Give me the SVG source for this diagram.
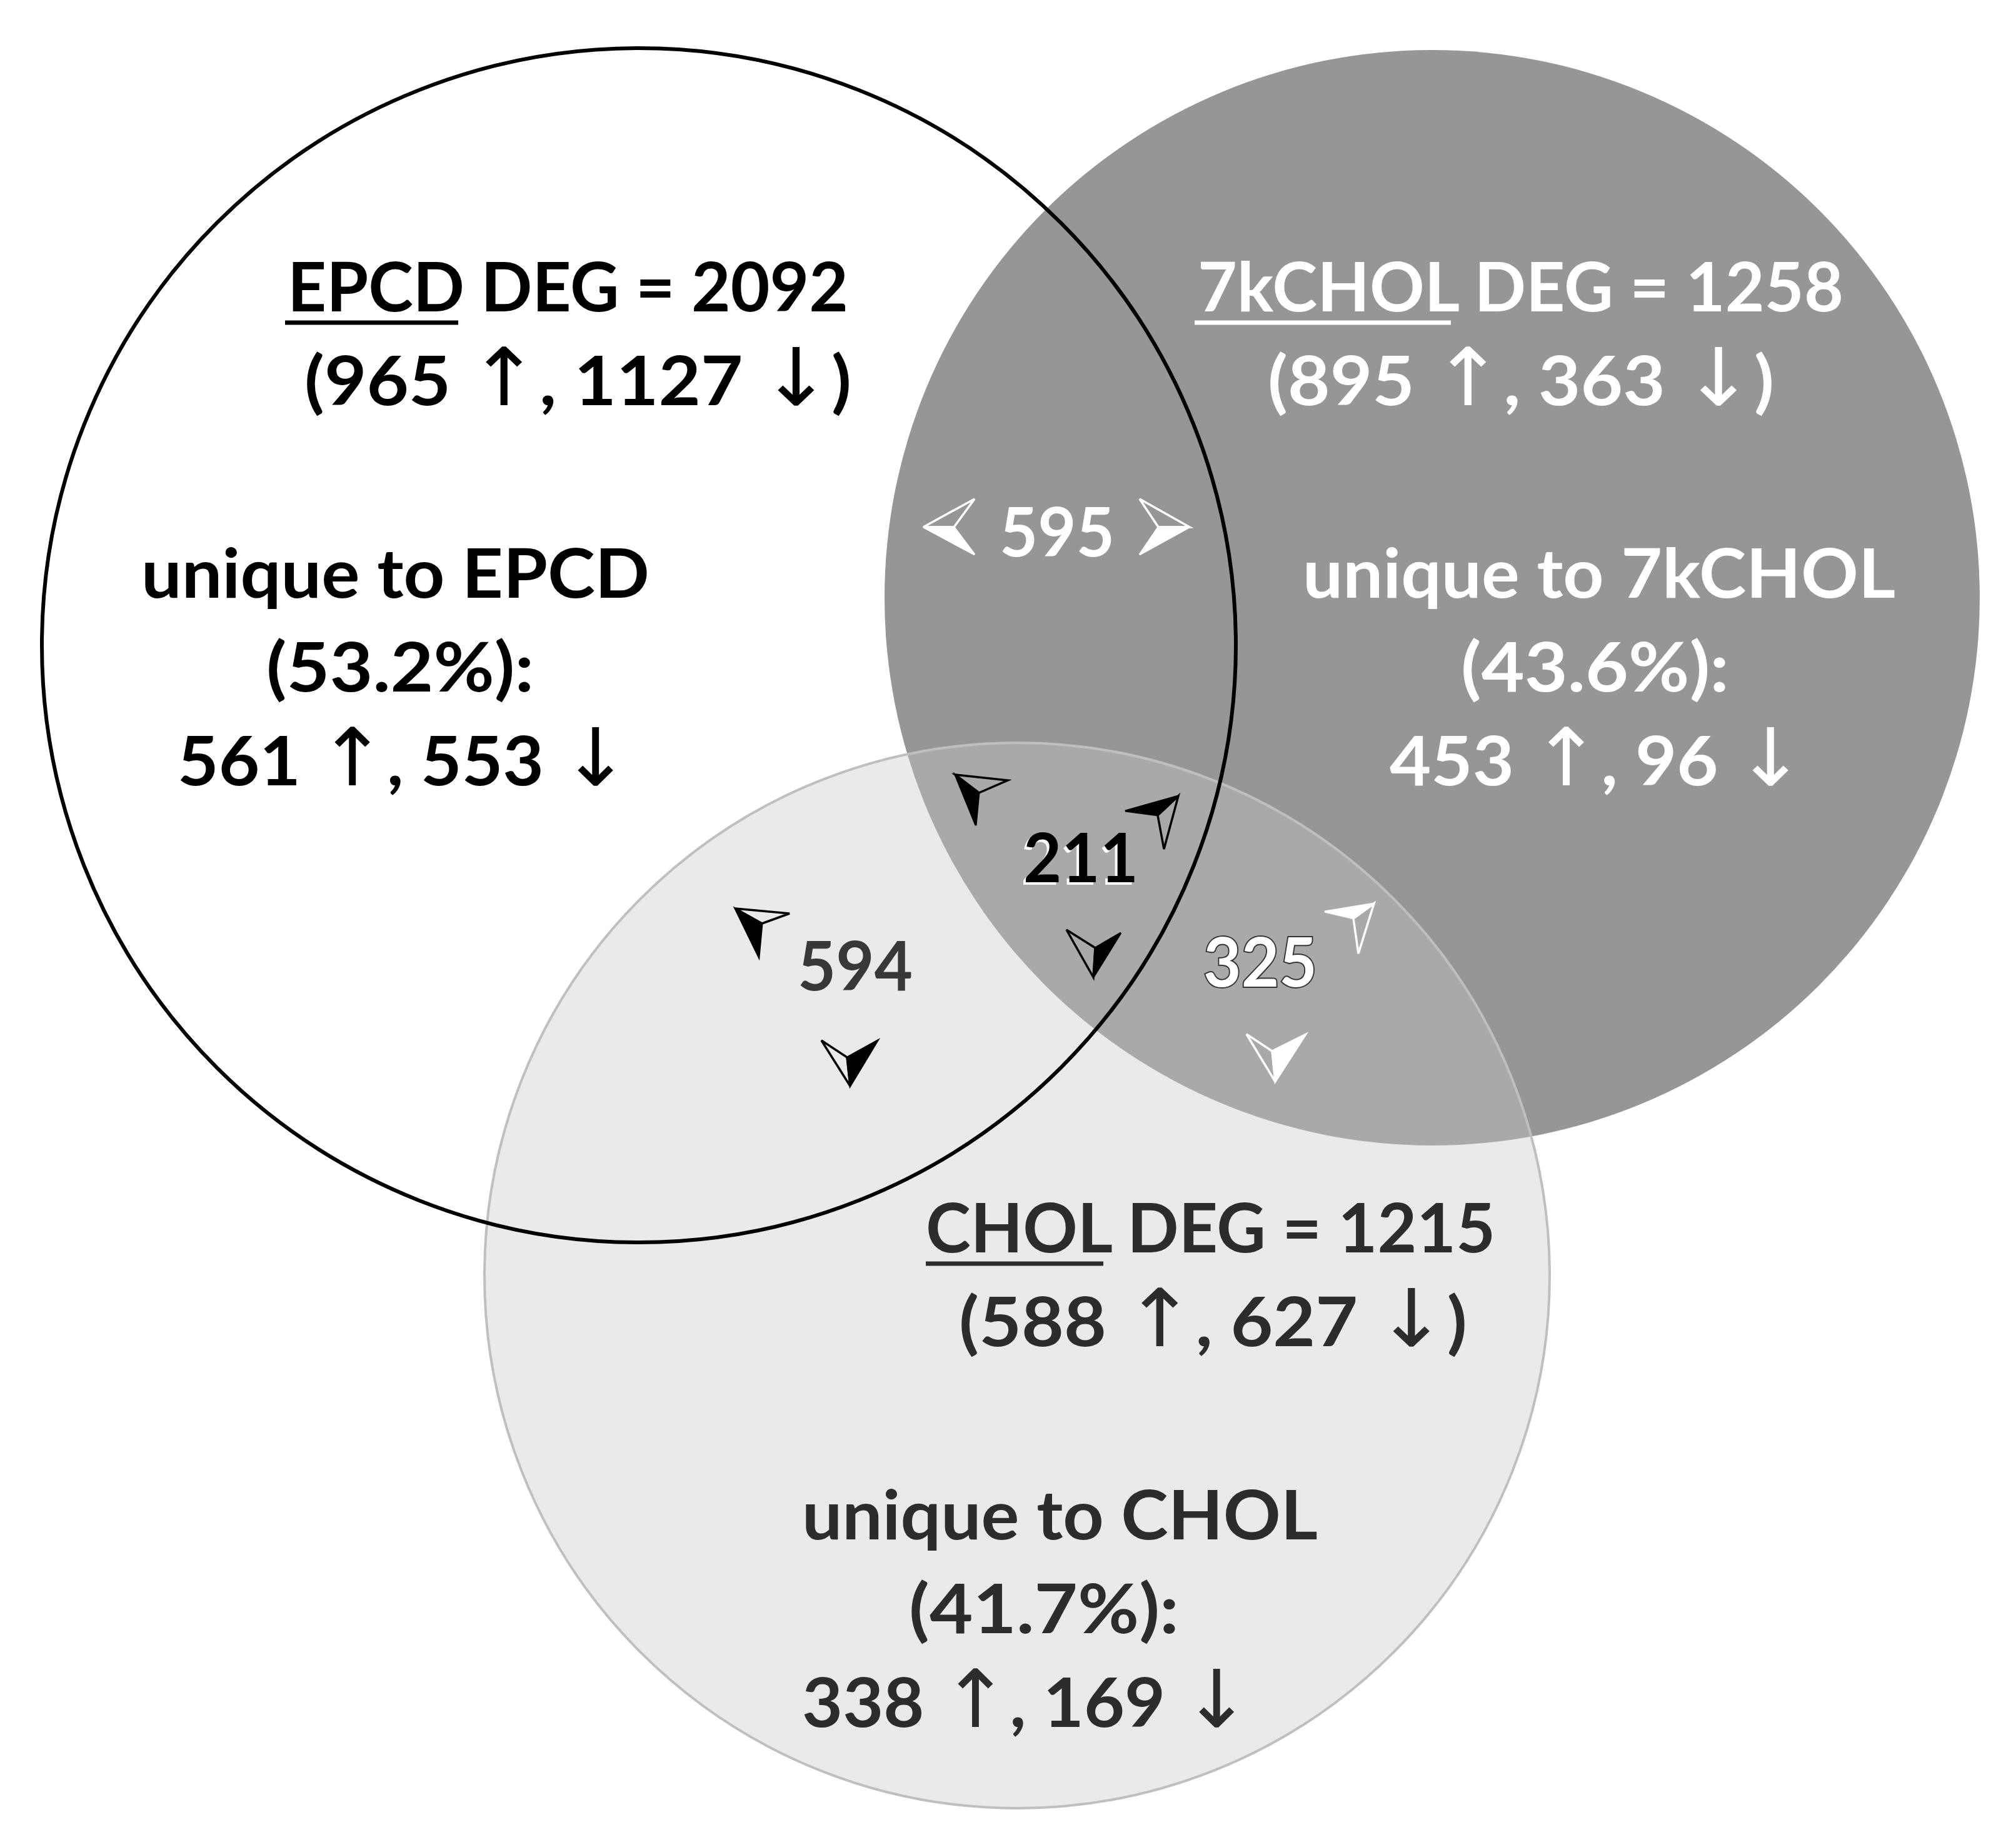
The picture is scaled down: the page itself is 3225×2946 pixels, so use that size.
<svg xmlns="http://www.w3.org/2000/svg" width="3225" height="2946" viewBox="0 0 3225 2946">
<style>
.t{font-family:"Lato","Open Sans","Liberation Sans",sans-serif;font-size:110px;font-weight:bold;}
.k{fill:#000;}
.w{fill:#fff;}
.d{fill:#2e2b2c;}
.ar{font-family:"DejaVu Sans",sans-serif;font-weight:normal;font-size:128px;}
.fk{fill:#000;stroke:#000;stroke-width:3;stroke-linejoin:miter;}
.ok{fill:none;stroke:#000;stroke-width:3.5;stroke-linejoin:miter;}
.fw{fill:#fff;stroke:#fff;stroke-width:3;stroke-linejoin:miter;}
.ow{fill:none;stroke:#fff;stroke-width:3.5;stroke-linejoin:miter;}
</style>
<rect x="0" y="0" width="3225" height="2946" fill="#fff"/>
<g id="sets">
  <circle id="epcd-fill" cx="1022" cy="1032" r="955" fill="#fff"/>
  <g id="node-7kchol-shape"><circle cx="2291" cy="956" r="876" fill="#969696"/></g>
  <g id="node-chol-shape"><circle cx="1627" cy="2040" r="852" fill="#cdc5c8" fill-opacity="0.38" stroke="#bfbfbf" stroke-width="4"/></g>
  <g id="node-epcd-shape"><circle cx="1022" cy="1032" r="955" fill="none" stroke="#000" stroke-width="6"/></g>
</g>
<g id="node-epcd">
  <text class="t k" x="460" y="498" textLength="897" lengthAdjust="spacingAndGlyphs">EPCD DEG = 2092</text>
  <line x1="456" y1="516" x2="733" y2="516" stroke="#000" stroke-width="7"/>
  <text class="t k" x="487" y="648" textLength="875" lengthAdjust="spacingAndGlyphs">(965 <tspan class="ar">↑</tspan>, 1127 <tspan class="ar">↓</tspan>)</text>
  <text class="t k" x="226" y="956" textLength="813" lengthAdjust="spacingAndGlyphs">unique to EPCD</text>
  <text class="t k" x="426" y="1106" textLength="428" lengthAdjust="spacingAndGlyphs">(53.2%):</text>
  <text class="t k" x="284" y="1256" textLength="724" lengthAdjust="spacingAndGlyphs">561 <tspan class="ar">↑</tspan>, 553 <tspan class="ar">↓</tspan></text>
</g>
<g id="node-7kchol">
  <text class="t w" x="1916" y="498" textLength="1033" lengthAdjust="spacingAndGlyphs">7kCHOL DEG = 1258</text>
  <line x1="1911" y1="516" x2="2321" y2="516" stroke="#fff" stroke-width="7"/>
  <text class="t w" x="2028" y="648" textLength="810" lengthAdjust="spacingAndGlyphs">(895 <tspan class="ar">↑</tspan>, 363 <tspan class="ar">↓</tspan>)</text>
  <text class="t w" x="2084" y="956" textLength="948" lengthAdjust="spacingAndGlyphs">unique to 7kCHOL</text>
  <text class="t w" x="2337" y="1106" textLength="429" lengthAdjust="spacingAndGlyphs">(43.6%):</text>
  <text class="t w" x="2223" y="1256" textLength="665" lengthAdjust="spacingAndGlyphs">453 <tspan class="ar">↑</tspan>, 96 <tspan class="ar">↓</tspan></text>
</g>
<g id="node-chol">
  <text class="t d" x="1481" y="2003" textLength="911" lengthAdjust="spacingAndGlyphs">CHOL DEG = 1215</text>
  <line x1="1481" y1="2021" x2="1765" y2="2021" stroke="#2e2b2c" stroke-width="7"/>
  <text class="t d" x="1534" y="2153" textLength="813" lengthAdjust="spacingAndGlyphs">(588 <tspan class="ar">↑</tspan>, 627 <tspan class="ar">↓</tspan>)</text>
  <text class="t d" x="1283" y="2462" textLength="825" lengthAdjust="spacingAndGlyphs">unique to CHOL</text>
  <text class="t d" x="1454" y="2612" textLength="432" lengthAdjust="spacingAndGlyphs">(41.7%):</text>
  <text class="t d" x="1283" y="2762" textLength="718" lengthAdjust="spacingAndGlyphs">338 <tspan class="ar">↑</tspan>, 169 <tspan class="ar">↓</tspan></text>
</g>
<g id="node-overlap-595">
  <text class="t w" x="1599" y="890" textLength="184" lengthAdjust="spacingAndGlyphs">595</text>
  <polygon class="ow" points="1477,843 1559,798 1526,843"/>
  <polygon class="fw" points="1477,843 1526,843 1559,887"/>
  <polygon class="ow" points="1903,843 1823,798 1853,843"/>
  <polygon class="fw" points="1903,843 1853,843 1823,887"/>
</g>
<g id="node-overlap-211">
  <text class="t w" x="1633" y="1415" textLength="184" lengthAdjust="spacingAndGlyphs">211</text>
  <text class="t k" x="1637" y="1411" textLength="184" lengthAdjust="spacingAndGlyphs">211</text>
  <polygon class="ok" points="1528,1239 1612,1248 1566,1268"/>
  <polygon class="fk" points="1528,1239 1566,1268 1561,1320"/>
  <polygon class="fk" points="1885,1273 1800,1297 1852,1304"/>
  <polygon class="ok" points="1885,1273 1852,1304 1862,1358"/>
  <polygon class="ok" points="1749,1563 1706,1487 1752,1516"/>
  <polygon class="fk" points="1749,1563 1752,1516 1793,1492"/>
</g>
<g id="node-overlap-594">
  <text class="t" x="1276" y="1584" textLength="184" lengthAdjust="spacingAndGlyphs" fill="#383838">594</text>
  <polygon class="ok" points="1176,1453 1263,1461 1219,1477"/>
  <polygon class="fk" points="1176,1453 1219,1477 1214,1531"/>
  <polygon class="ok" points="1360,1737 1314,1664 1355,1691"/>
  <polygon class="fk" points="1360,1737 1355,1691 1404,1664"/>
</g>
<g id="node-overlap-325">
  <text class="t w" x="1925" y="1578" textLength="182" lengthAdjust="spacingAndGlyphs" stroke="#333" stroke-width="4" paint-order="stroke">325</text>
  <polygon class="fw" points="2198,1445 2119,1458 2165,1469"/>
  <polygon class="ow" points="2198,1445 2165,1469 2173,1525"/>
  <polygon class="ow" points="2040,1730 1994,1654 2035,1681"/>
  <polygon class="fw" points="2040,1730 2035,1681 2089,1654"/>
</g>
</svg>
